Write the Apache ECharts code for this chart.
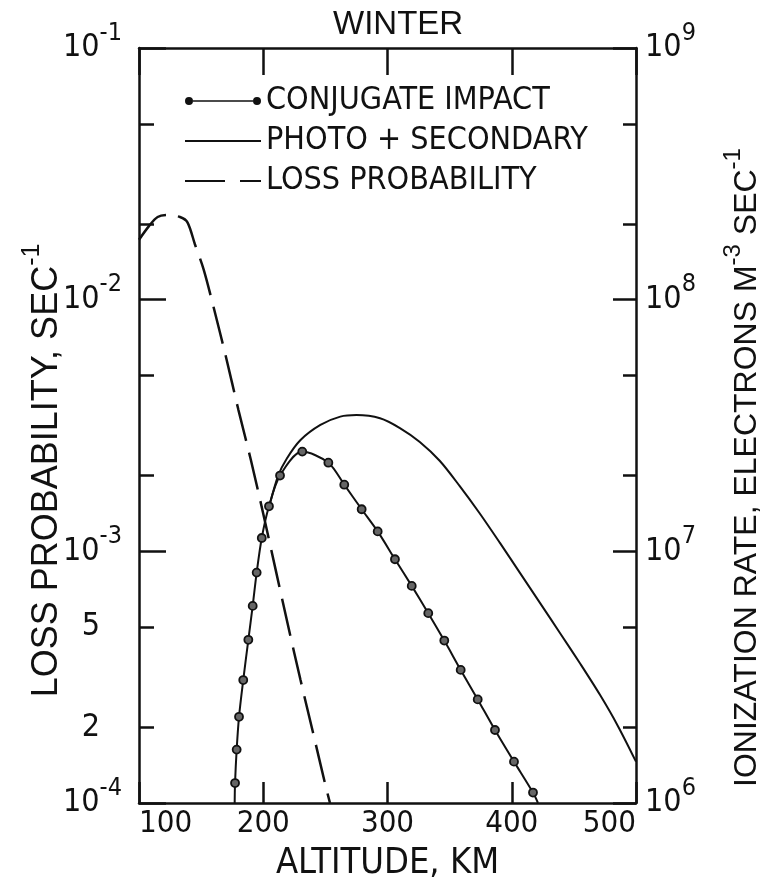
<!DOCTYPE html>
<html>
<head>
<meta charset="utf-8">
<script src="https://cdn.jsdelivr.net/npm/echarts@6/dist/echarts.min.js"></script>
<style>
html,body{margin:0;padding:0;background:#fff;}
#chart{width:767px;height:887px;}
</style>
</head>
<body>
<div id="chart"></div>
<script>
// ---------- DATA ----------
const TITLE = 'WINTER';
const X_NAME = 'ALTITUDE, KM';
const LEFT_NAME = 'LOSS PROBABILITY, SEC{s|-1}';
const RIGHT_NAME = 'IONIZATION RATE, ELECTRONS M{s|-3} SEC{s|-1}';
const SERIES_NAMES = ['CONJUGATE IMPACT', 'PHOTO + SECONDARY', 'LOSS PROBABILITY'];

const X_TICKS = [100, 200, 300, 400, 500];
const LEFT_DECADES = [1e-4, 1e-3, 1e-2, 1e-1];
const LEFT_MINOR = [2e-4, 5e-4, 2e-3, 5e-3, 2e-2, 5e-2];
const LEFT_MINOR_LABELED = [2e-4, 5e-4];
const RIGHT_DECADES = [1e6, 1e7, 1e8, 1e9];
const RIGHT_MINOR = [2e6, 5e6, 2e7, 5e7, 2e8, 5e8];

// Conjugate impact ionization rate (electrons m^-3 s^-1); first/last entries are where the curve meets the axis
const CONJ_ALT  = [177.0, 177.3, 178.6, 180.5, 183.9, 188.0, 191.5, 194.7, 198.8, 204.6, 213.5, 231.4, 252.4, 265.2, 279.2, 292.1, 306.0, 319.5, 332.8, 345.7, 358.9, 372.6, 386.5, 401.8, 417.1, 421.1];
const CONJ_RATE = [1.0e6, 1.20e6, 1.63e6, 2.20e6, 3.08e6, 4.45e6, 6.07e6, 8.23e6, 1.13e7, 1.51e7, 2.0e7, 2.49e7, 2.25e7, 1.84e7, 1.47e7, 1.20e7, 9.30e6, 7.29e6, 5.68e6, 4.42e6, 3.38e6, 2.58e6, 1.95e6, 1.46e6, 1.10e6, 1.0e6];

// Photo + secondary ionization rate
const PHOTO_ALT  = [205, 212, 219, 230, 246, 262, 275, 294, 310, 326, 342, 358, 374, 390.5, 406.6, 422.7, 438.8, 454.9, 471, 485.5, 500];
const PHOTO_RATE = [1.52e7, 2.0e7, 2.34e7, 2.77e7, 3.18e7, 3.43e7, 3.48e7, 3.38e7, 3.09e7, 2.72e7, 2.29e7, 1.82e7, 1.42e7, 1.08e7, 8.21e6, 6.24e6, 4.74e6, 3.59e6, 2.69e6, 2.02e6, 1.46e6];

// Loss probability (s^-1)
const LOSS_ALT  = [100, 108, 115, 123, 133, 139, 145, 152, 160, 170, 180, 190, 200, 210, 220, 230, 240, 250, 253.7];
const LOSS_PROB = [0.0173, 0.0196, 0.0213, 0.0217, 0.0213, 0.0203, 0.0166, 0.0132, 0.00935, 0.00592, 0.00365, 0.00231, 0.00141, 0.000844, 0.000506, 0.000308, 0.000191, 0.000118, 0.0001];

// ---------- STYLE ----------
const FN = "'Liberation Sans Narrow', 'DejaVu Sans Condensed', 'Liberation Sans', sans-serif";
const FR = "'Liberation Sans', 'DejaVu Sans', sans-serif";
const INK = '#111';

const conjData = CONJ_ALT.map((a, i) => {
  const item = { value: [a, CONJ_RATE[i]] };
  if (i === 0 || i === CONJ_ALT.length - 1) item.symbol = 'none';
  return item;
});
const photoData = PHOTO_ALT.map((a, i) => [a, PHOTO_RATE[i]]);
const lossData = LOSS_ALT.map((a, i) => [a, LOSS_PROB[i]]);

const supRich = (base, sup) => ({
  b: { fontSize: base, fontFamily: FN, color: INK },
  s: { fontSize: sup, fontFamily: FN, color: INK, padding: [0, 0, 30, 0] }
});
const decadeLabel = v => '{b|10}{s|' + Math.round(Math.log10(v)) + '}';

const lineAxis = { show: true, onZero: false, lineStyle: { color: INK, width: 2.5 } };

const chart = echarts.init(document.getElementById('chart'), null, { renderer: 'canvas' });
chart.setOption({
  animation: false,
  backgroundColor: '#fff',
  title: {
    text: TITLE, left: 328, top: 3,
    textStyle: { fontSize: 33, fontFamily: FR, fontWeight: 'normal', color: INK }
  },
  grid: { left: 139, right: 131, top: 48, bottom: 84, containLabel: false, outerBoundsMode: 'none' },
  legend: {
    orient: 'vertical', left: 185, top: 85, padding: 0,
    itemWidth: 76, itemHeight: 8, itemGap: 8,
    symbolKeepAspect: true, selectedMode: false,
    itemStyle: { color: INK, borderWidth: 0 },
    textStyle: { fontSize: 32, fontFamily: FN, color: INK, lineHeight: 31 },
    data: [
      { name: SERIES_NAMES[0], icon: 'path://M0 4a4 4 0 1 0 8 0a4 4 0 1 0 -8 0Z M68 4a4 4 0 1 0 8 0a4 4 0 1 0 -8 0Z M8 3.2H68V4.8H8Z' },
      { name: SERIES_NAMES[1], icon: 'path://M0 0H76V2H0Z' },
      { name: SERIES_NAMES[2], icon: 'path://M0 0H40V2.2H0Z M55 0H76V2.2H55Z' }
    ]
  },
  xAxis: [
    {
      type: 'value', position: 'bottom', min: X_TICKS[0], max: X_TICKS[4], interval: 100,
      axisLine: lineAxis,
      axisTick: { show: true, inside: true, length: 21, lineStyle: { color: INK, width: 2.5 } },
      axisLabel: { margin: 5, fontSize: 31, fontFamily: FN, color: INK, alignMinLabel: 'left', alignMaxLabel: 'right' },
      splitLine: { show: false },
      name: X_NAME, nameLocation: 'middle', nameGap: 43, nameMoveOverlap: false,
      nameTextStyle: { fontSize: 36, fontFamily: FN, color: INK }
    },
    {
      type: 'value', position: 'top', min: X_TICKS[0], max: X_TICKS[4], interval: 100,
      axisLine: lineAxis,
      axisTick: { show: true, inside: true, length: 27, lineStyle: { color: INK, width: 2.5 } },
      axisLabel: { show: false },
      splitLine: { show: false }
    }
  ],
  yAxis: [
    {
      type: 'log', logBase: 10, min: LEFT_DECADES[0], max: LEFT_DECADES[3], position: 'left',
      axisLine: lineAxis,
      axisTick: { show: true, inside: true, length: 27, lineStyle: { color: INK, width: 2.5 } },
      axisLabel: { margin: 17, formatter: decadeLabel, rich: supRich(32, 25) },
      splitLine: { show: false },
      name: LEFT_NAME, nameLocation: 'middle', nameGap: 64, nameRotate: 90, nameMoveOverlap: false,
      nameTextStyle: {
        fontSize: 36, fontFamily: FR, color: INK, padding: [0, 90, 0, 0],
        rich: { s: { fontSize: 25, fontFamily: FR, color: INK, padding: [0, 0, 30, 0] } }
      }
    },
    {
      type: 'log', logBase: 10, min: RIGHT_DECADES[0], max: RIGHT_DECADES[3], position: 'right',
      axisLine: lineAxis,
      axisTick: { show: true, inside: true, length: 23, lineStyle: { color: INK, width: 2.5 } },
      axisLabel: { margin: 9, formatter: decadeLabel, rich: supRich(32, 25) },
      splitLine: { show: false },
      name: RIGHT_NAME, nameLocation: 'middle', nameGap: 85, nameRotate: 90, nameMoveOverlap: false,
      nameTextStyle: {
        fontSize: 32, fontFamily: FR, color: INK, padding: [0, 84, 0, 0],
        rich: { s: { fontSize: 24, fontFamily: FR, color: INK, padding: [0, 0, 28, 0] } }
      }
    },
    {
      type: 'value', min: Math.log10(LEFT_DECADES[0]), max: Math.log10(LEFT_DECADES[3]), position: 'left',
      axisLine: { show: false },
      axisTick: { show: true, inside: true, length: 15, customValues: LEFT_MINOR.map(Math.log10), lineStyle: { color: INK, width: 2.5 } },
      axisLabel: {
        margin: 39, fontSize: 32, fontFamily: FN, color: INK, padding: [16, 0, 0, 0],
        customValues: LEFT_MINOR_LABELED.map(Math.log10),
        formatter: v => String(Math.round(Math.pow(10, v - Math.floor(v + 1e-9))))
      },
      splitLine: { show: false }
    },
    {
      type: 'value', min: Math.log10(RIGHT_DECADES[0]), max: Math.log10(RIGHT_DECADES[3]), position: 'right',
      axisLine: { show: false },
      axisTick: { show: true, inside: true, length: 13, customValues: RIGHT_MINOR.map(Math.log10), lineStyle: { color: INK, width: 2.5 } },
      axisLabel: { show: false },
      splitLine: { show: false }
    }
  ],
  series: [
    {
      name: SERIES_NAMES[0], type: 'line', xAxisIndex: 0, yAxisIndex: 1,
      data: conjData, smooth: 0.3, symbol: 'circle', symbolSize: 8,
      itemStyle: { color: '#666', borderColor: INK, borderWidth: 1.8 },
      lineStyle: { color: INK, width: 2 }, z: 4
    },
    {
      name: SERIES_NAMES[1], type: 'line', xAxisIndex: 0, yAxisIndex: 1,
      data: photoData, smooth: 0.3, symbol: 'none',
      itemStyle: { color: INK },
      lineStyle: { color: INK, width: 2 }, z: 3
    },
    {
      name: SERIES_NAMES[2], type: 'line', xAxisIndex: 0, yAxisIndex: 0,
      data: lossData, smooth: 0.3, symbol: 'none',
      itemStyle: { color: INK },
      lineStyle: { color: INK, width: 2.5, type: [38, 12] }, z: 3
    }
  ]
});
</script>
</body>
</html>
